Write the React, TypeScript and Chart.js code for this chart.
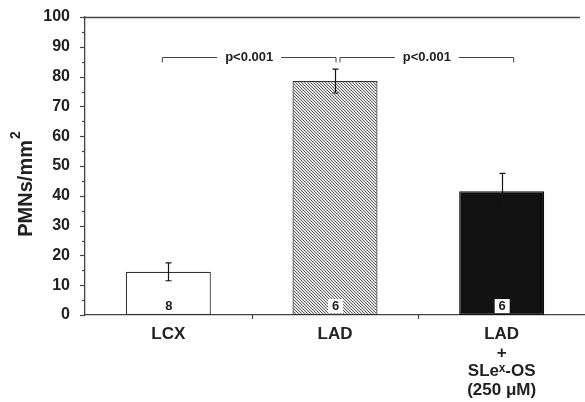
import React, { useEffect, useRef } from "react";
import { Chart, registerables } from "chart.js";

Chart.register(...registerables);

const categoryLabels: string[][] = [["LCX"], ["LAD"], ["LAD", "+", "SLeˣ-OS", "(250 μM)"]];
const means: number[] = [14.5, 78.5, 41.5];
const errors: number[] = [3, 4, 6];
const nCounts: string[] = ["8", "6", "6"];
const nBoxed: boolean[] = [false, true, true];
const bracketFrom: number[] = [0, 1];
const bracketTo: number[] = [1, 2];
const bracketLevel: number[] = [86.7, 86.7];
const bracketLabels: string[] = ["p<0.001", "p<0.001"];
const yAxisTitle = "PMNs/mm";
const yAxisTitleSup = "2";

const FONT = "'Liberation Sans', Arial, Helvetica, 'DejaVu Sans', sans-serif";
const INK = "#222222";

function makeHatch(): CanvasPattern | string {
  const s = 3;
  const c = document.createElement("canvas");
  c.width = s;
  c.height = s;
  const g = c.getContext("2d");
  if (!g) return "#999";
  g.fillStyle = "#e4e4e4";
  g.fillRect(0, 0, s, s);
  g.strokeStyle = "#555555";
  g.lineWidth = 0.9;
  g.beginPath();
  g.moveTo(0, 0);
  g.lineTo(s, s);
  g.moveTo(-1, s - 1);
  g.lineTo(1, s + 1);
  g.moveTo(s - 1, -1);
  g.lineTo(s + 1, 1);
  g.stroke();
  const p = g.createPattern(c, "repeat");
  return p || "#999";
}

const annotPlugin = {
  id: "annot",
  afterDatasetsDraw(chart: any) {
    const ctx: CanvasRenderingContext2D = chart.ctx;
    const x = chart.scales.x;
    const y = chart.scales.y;
    const area = chart.chartArea;
    ctx.save();

    // top frame line
    ctx.strokeStyle = "#444";
    ctx.lineWidth = 1.3;
    ctx.beginPath();
    ctx.moveTo(area.left, area.top + 0.5);
    ctx.lineTo(area.right - 5, area.top + 0.5);
    ctx.stroke();

    // y ticks (major + minor)
    ctx.lineWidth = 1.2;
    for (let v = 0; v <= 100; v += 5) {
      const py = Math.round(y.getPixelForValue(v)) + 0.5;
      const len = v % 10 === 0 ? 5 : 3;
      ctx.beginPath();
      ctx.moveTo(area.left - len, py);
      ctx.lineTo(area.left, py);
      ctx.stroke();
    }
    // x ticks at category boundaries
    for (let i = 0; i < categoryLabels.length - 1; i++) {
      const px = Math.round(x.getPixelForValue(i + 0.5)) + 0.5;
      ctx.beginPath();
      ctx.moveTo(px, area.bottom);
      ctx.lineTo(px, area.bottom + 4);
      ctx.stroke();
    }

    // error bars
    ctx.strokeStyle = "#151515";
    ctx.lineWidth = 1.2;
    means.forEach((m, i) => {
      const px = Math.round(x.getPixelForValue(i)) + 0.5;
      const top = y.getPixelForValue(m + errors[i]);
      const bot = y.getPixelForValue(m - errors[i]);
      ctx.beginPath();
      ctx.moveTo(px, top);
      ctx.lineTo(px, bot);
      ctx.moveTo(px - 3, top);
      ctx.lineTo(px + 3, top);
      ctx.moveTo(px - 3, bot);
      ctx.lineTo(px + 3, bot);
      ctx.stroke();
    });

    // n labels
    ctx.font = `bold 13px ${FONT}`;
    ctx.textAlign = "center";
    ctx.textBaseline = "middle";
    nCounts.forEach((n, i) => {
      const px = x.getPixelForValue(i);
      const py = y.getPixelForValue(3);
      if (nBoxed[i]) {
        ctx.fillStyle = "#fff";
        ctx.fillRect(px - 7, py - 7, 15, 14);
      }
      ctx.fillStyle = INK;
      ctx.fillText(n, px + 0.5, py + 0.5);
    });

    // brackets
    ctx.strokeStyle = "#444";
    ctx.lineWidth = 1;
    ctx.font = `bold 13px ${FONT}`;
    bracketFrom.forEach((a, i) => {
      const b = bracketTo[i];
      const x1 = x.getPixelForValue(a) + (i === 0 ? -6 : 5);
      const x2 = x.getPixelForValue(b) + (i === 0 ? 1 : 12);
      const py = Math.round(y.getPixelForValue(bracketLevel[i])) + 0.5;
      const mid = (x1 + x2) / 2;
      const tw = ctx.measureText(bracketLabels[i]).width;
      const gap = tw / 2 + 8;
      ctx.beginPath();
      ctx.moveTo(x1, py + 5);
      ctx.lineTo(x1, py);
      ctx.lineTo(mid - gap, py);
      ctx.moveTo(mid + gap, py);
      ctx.lineTo(x2, py);
      ctx.lineTo(x2, py + 5);
      ctx.stroke();
      ctx.fillStyle = INK;
      ctx.fillText(bracketLabels[i], mid, py);
    });

    // y axis title with superscript
    ctx.translate(26, 184);
    ctx.rotate(-Math.PI / 2);
    ctx.font = `bold 20px ${FONT}`;
    const w1 = ctx.measureText(yAxisTitle).width;
    ctx.font = `bold 14px ${FONT}`;
    const w2 = ctx.measureText(yAxisTitleSup).width;
    const start = -(w1 + w2 + 1) / 2;
    ctx.textAlign = "left";
    ctx.textBaseline = "middle";
    ctx.fillStyle = INK;
    ctx.font = `bold 20px ${FONT}`;
    ctx.fillText(yAxisTitle, start, 0);
    ctx.font = `bold 14px ${FONT}`;
    ctx.fillText(yAxisTitleSup, start + w1 + 1, -10);

    ctx.restore();
  },
};

export default function App() {
  const ref = useRef<HTMLCanvasElement | null>(null);

  useEffect(() => {
    const canvas = ref.current;
    if (!canvas) return;
    const hatch = makeHatch();
    const chart = new Chart(canvas, {
      type: "bar",
      data: {
        labels: categoryLabels as any,
        datasets: [
          {
            data: means,
            backgroundColor: ["#ffffff", hatch as any, "#111111"],
            borderColor: ["#333333", "#333333", "#111111"],
            borderWidth: 1.2,
            borderSkipped: false,
            barPercentage: 0.51,
            categoryPercentage: 1,
          },
        ],
      },
      options: {
        responsive: false,
        animation: false,
        events: [],
        layout: { padding: { top: 17, right: 0, left: 0, bottom: 0 } },
        plugins: { legend: { display: false }, tooltip: { enabled: false } },
        scales: {
          x: {
            type: "category",
            grid: { display: false },
            border: { display: true, color: "#444", width: 1.3 },
            ticks: {
              color: INK,
              font: { family: FONT, size: 17, weight: "bold", lineHeight: 1.1 },
              padding: 2,
              maxRotation: 0,
              autoSkip: false,
            },
            afterFit: (s: any) => {
              s.height = 87;
            },
          },
          y: {
            min: 0,
            max: 100,
            grid: { display: false },
            border: { display: true, color: "#444", width: 1.3 },
            ticks: {
              stepSize: 10,
              color: INK,
              font: { family: FONT, size: 16, weight: "bold" },
              padding: 7,
            },
            afterFit: (s: any) => {
              s.width = 85;
            },
          },
        },
      },
      plugins: [annotPlugin],
    });
    return () => chart.destroy();
  }, []);

  return (
    <div style={{ position: "fixed", left: 0, top: 0, width: 585, height: 402, background: "#fff" }}>
      <canvas ref={ref} width={585} height={402} style={{ display: "block" }} />
    </div>
  );
}
